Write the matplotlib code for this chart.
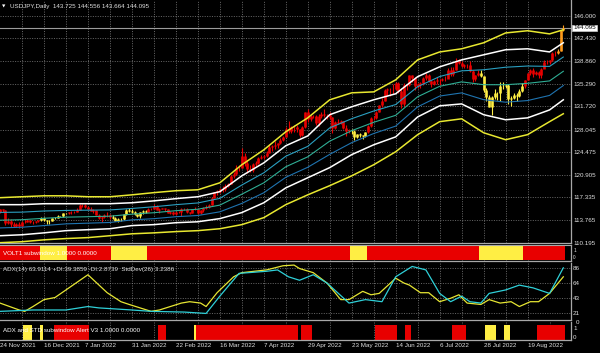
import matplotlib
matplotlib.use("Agg")
import matplotlib.pyplot as plt
import matplotlib.transforms as mtransforms
import numpy as np

plt.rcParams['font.family'] = ['Liberation Sans', 'DejaVu Sans']

TITLE = "USDJPY,Daily  143.725 144.556 143.664 144.095"
VOLT_TEXT = "VOLT1 subwindow 1.0000 0.0000"
ADX_TEXT = "ADX(14) 63.9114 +DI:39.3859 -DI:2.8739  StdDev(26) 3.2386"
ALERT_TEXT = "ADX and STD subwindow Alert V3 1.0000 0.0000"

# daily bars, 24 Nov 2021 .. 7 Sep 2022
first_open = 115.05
closes = [115.45, 115.36, 113.38, 113.66, 113.17, 112.79, 113.19, 112.80, 113.45, 113.53,
          113.71, 113.46, 113.42, 113.57, 113.73, 114.04, 113.72, 113.69, 113.63, 114.08,
          114.12, 114.39, 114.37, 114.82, 114.82, 114.99, 115.07, 115.08, 115.35, 116.13,
          116.11, 115.84, 115.56, 115.21, 115.28, 114.61, 114.17, 114.20, 114.59, 114.63,
          114.30, 114.12, 113.67, 113.96, 113.88, 114.66, 115.35, 115.25, 115.11, 114.70,
          114.42, 114.97, 115.23, 115.10, 115.55, 115.54, 116.02, 115.42, 115.57, 115.61,
          115.47, 114.93, 115.02, 114.75, 115.08, 115.01, 115.49, 115.57, 114.98, 114.88,
          115.48, 115.54, 114.83, 115.30, 115.72, 115.86, 116.14, 117.29, 118.16, 118.29,
          118.71, 118.60, 119.18, 119.46, 120.79, 120.98, 122.06, 122.05, 123.85, 122.84,
          121.85, 121.70, 122.54, 122.76, 123.59, 123.73, 123.95, 124.34, 125.36, 125.39,
          125.62, 125.88, 126.40, 126.93, 128.18, 127.85, 128.39, 128.51, 128.09, 127.24,
          128.43, 130.81, 129.72, 130.14, 130.12, 129.05, 130.17, 130.55, 130.29, 130.42,
          129.96, 128.33, 129.22, 129.14, 129.39, 128.24, 127.79, 127.87, 127.90, 126.84,
          127.34, 127.12, 127.11, 127.65, 128.67, 129.85, 129.88, 130.87, 131.88, 132.62,
          134.24, 134.38, 134.40, 134.41, 135.45, 134.16, 132.14, 135.04, 135.06, 136.63,
          136.25, 134.95, 135.21, 135.47, 136.14, 136.59, 135.73, 135.22, 135.71, 135.87,
          135.93, 136.02, 136.07, 137.43, 136.88, 137.43, 138.95, 138.54, 138.15, 138.21,
          138.19, 137.34, 136.11, 136.67, 136.95, 136.57, 134.27, 133.24, 131.61, 133.19,
          133.87, 133.90, 135.00, 134.96, 135.12, 132.90, 133.06, 133.48, 133.31, 134.21,
          134.97, 135.90, 136.93, 137.47, 136.77, 137.14, 136.62, 137.56, 138.75, 138.74,
          138.96, 140.20, 140.20, 140.53, 143.725, 144.095]
highs = [115.52, 115.50, 115.37, 114.15, 113.96, 113.45, 113.35, 113.50, 113.55, 113.80,
         113.95, 113.80, 113.60, 113.70, 113.80, 114.25, 114.25, 113.80, 113.80, 114.15,
         114.30, 114.50, 114.45, 114.90, 114.95, 115.05, 115.20, 115.20, 115.60, 116.35,
         116.30, 116.30, 116.05, 115.85, 115.45, 115.35, 114.70, 114.40, 114.70, 115.05,
         114.70, 114.55, 114.20, 114.10, 114.15, 114.70, 115.45, 115.70, 115.50, 115.15,
         114.80, 115.05, 115.35, 115.30, 115.65, 115.70, 116.35, 116.20, 115.70, 115.75,
         115.70, 115.50, 115.20, 115.20, 115.20, 115.25, 115.70, 115.75, 115.65, 115.10,
         115.55, 115.80, 115.55, 115.40, 115.80, 116.20, 116.25, 117.35, 118.20, 118.45,
         118.90, 119.10, 119.40, 119.60, 120.90, 121.40, 122.40, 122.45, 125.10, 124.30,
         123.20, 122.40, 122.80, 123.05, 123.70, 124.05, 124.10, 124.70, 125.75, 125.60,
         126.30, 126.00, 126.65, 127.00, 128.45, 129.40, 128.60, 128.85, 128.75, 128.10,
         128.60, 130.90, 131.25, 130.35, 130.35, 130.40, 130.45, 130.85, 131.35, 130.50,
         130.80, 130.05, 129.40, 129.70, 129.60, 129.40, 128.70, 128.20, 128.10, 128.00,
         127.40, 127.55, 127.25, 127.70, 128.85, 130.00, 130.25, 130.95, 132.00, 133.00,
         134.50, 134.55, 134.60, 135.20, 135.60, 135.55, 134.65, 135.40, 135.30, 136.70,
         136.70, 136.30, 135.35, 135.55, 136.35, 137.00, 136.75, 135.90, 135.80, 136.35,
         136.00, 136.20, 136.55, 137.75, 137.85, 137.85, 139.40, 139.20, 138.85, 138.40,
         138.40, 138.85, 137.50, 136.70, 137.45, 137.45, 136.55, 134.55, 133.55, 133.30,
         134.40, 134.05, 135.50, 135.55, 135.25, 135.25, 133.35, 133.90, 133.90, 134.40,
         135.45, 135.95, 137.00, 137.65, 137.70, 137.25, 137.35, 137.70, 139.05, 139.00,
         139.10, 140.25, 140.40, 140.80, 143.80, 144.556]
lows = [114.85, 115.10, 113.06, 113.10, 112.70, 112.62, 112.70, 112.56, 112.75, 113.35,
        113.45, 113.35, 113.10, 113.30, 113.45, 113.60, 113.55, 113.15, 113.15, 113.60,
        113.90, 114.05, 114.25, 114.30, 114.65, 114.75, 114.80, 114.95, 115.00, 115.30,
        115.85, 115.65, 115.45, 115.15, 114.90, 114.50, 114.00, 113.50, 114.15, 114.25,
        114.00, 113.90, 113.55, 113.50, 113.60, 113.75, 114.60, 115.05, 114.95, 114.55,
        114.30, 114.15, 114.75, 114.90, 115.05, 115.35, 115.45, 115.30, 114.95, 115.45,
        115.25, 114.85, 114.80, 114.55, 114.50, 114.90, 114.40, 115.35, 114.90, 114.65,
        114.85, 115.40, 114.65, 114.80, 115.05, 115.55, 115.75, 116.10, 117.20, 117.75,
        118.10, 118.25, 118.40, 118.95, 119.40, 120.45, 120.95, 121.55, 122.05, 122.35,
        121.20, 121.30, 121.30, 122.25, 122.55, 123.40, 123.40, 123.80, 124.30, 124.70,
        125.00, 125.10, 125.80, 126.25, 126.90, 127.45, 127.50, 127.70, 127.70, 126.95,
        127.10, 128.35, 129.30, 129.45, 129.90, 128.80, 128.60, 129.80, 130.10, 129.75,
        129.65, 127.50, 128.10, 128.90, 128.90, 128.10, 127.00, 127.50, 127.40, 126.35,
        126.70, 126.80, 126.60, 126.90, 127.50, 128.50, 129.55, 129.75, 130.85, 131.60,
        132.55, 133.35, 133.40, 133.60, 134.25, 133.80, 131.50, 131.85, 134.25, 134.95,
        135.50, 134.30, 134.55, 134.55, 135.10, 135.95, 135.55, 134.75, 135.15, 135.30,
        135.10, 135.70, 135.65, 136.25, 136.55, 136.45, 137.40, 138.40, 137.90, 137.70,
        137.70, 137.20, 135.60, 135.75, 136.45, 136.35, 134.00, 132.50, 131.60, 130.40,
        132.90, 132.75, 132.55, 134.40, 134.55, 132.05, 131.75, 132.85, 132.55, 133.20,
        134.05, 134.65, 135.85, 136.65, 136.30, 136.60, 136.25, 136.25, 138.30, 138.35,
        138.45, 138.95, 139.65, 140.05, 140.40, 143.664]

# VOLT1 state: yellow runs (bar index ranges), red elsewhere
volt_yellow = [(15, 24), (41, 53), (128, 133), (175, 190)]
orange_bars = [203, 204, 205]
last_price = 144.095

# envelope lines, sampled every 8 bars
band_bars = [0, 8, 16, 24, 32, 40, 48, 56, 64, 72, 80, 88, 96, 104, 112, 120, 128,
             136, 144, 152, 160, 168, 176, 184, 192, 200, 205]
yellow_up = [117.3, 117.45, 117.6, 117.6, 117.45, 117.45, 117.75, 118.1, 118.4, 118.55,
             119.65, 122.5, 124.85, 127.7, 129.9, 132.75, 133.85, 134.0, 135.9, 139.05,
             140.3, 140.8, 141.75, 143.3, 143.65, 143.15, 143.8]
white_up = [116.2, 116.2, 116.35, 116.35, 116.35, 116.35, 116.5, 116.8, 117.15, 117.45,
            118.25, 120.75, 122.8, 125.5, 127.05, 130.4, 131.65, 132.75, 133.7, 136.4,
            137.95, 139.05, 139.85, 140.65, 140.8, 140.3, 141.75]
teal_up = [114.98, 115.02, 115.2, 115.29, 115.33, 115.37, 115.6, 115.87, 116.2, 116.47,
           117.19, 119.3, 121.23, 123.84, 125.4, 128.32, 129.77, 130.98, 132.0, 134.82,
           136.42, 137.32, 137.49, 137.89, 138.08, 138.02, 139.5]
teal_mid = [113.75, 113.83, 114.05, 114.23, 114.3, 114.38, 114.7, 114.93, 115.25, 115.48,
            116.13, 117.85, 119.65, 122.18, 123.75, 126.23, 127.88, 129.2, 130.3, 133.23,
            134.88, 135.58, 135.13, 135.13, 135.35, 135.73, 137.25]
teal_low = [112.53, 112.64, 112.9, 113.17, 113.28, 113.39, 113.8, 113.99, 114.3, 114.49,
            115.07, 116.4, 118.08, 120.52, 122.1, 124.14, 125.99, 127.43, 128.6, 131.64,
            133.34, 133.84, 132.77, 132.37, 132.63, 133.44, 135.0]
white_low = [111.3, 111.45, 111.75, 112.1, 112.25, 112.4, 112.9, 113.05, 113.35, 113.5,
             114.0, 114.95, 116.5, 118.85, 120.45, 122.05, 124.1, 125.65, 126.9, 130.05,
             131.8, 132.1, 130.4, 129.6, 129.9, 131.15, 132.75]
yellow_low = [110.2, 110.35, 110.65, 110.85, 111.0, 111.3, 111.6, 111.75, 111.95, 112.1,
              112.4, 113.05, 114.15, 116.2, 117.75, 119.2, 120.75, 122.5, 124.55, 127.25,
              129.3, 129.75, 127.55, 126.45, 127.25, 129.3, 130.55]

price_ticks = [110.195, 113.765, 117.335, 120.905, 124.475, 128.045, 131.720,
               135.290, 138.860, 142.430, 146.000]

# ADX / StdDev subwindow
adx_x = [0, 7, 9, 12, 16, 20, 24, 32, 39, 44, 47, 51, 55, 58, 62, 66, 69, 73, 75, 79,
         85, 88, 97, 103, 107, 109, 114, 119, 124, 127, 132, 135, 138, 144, 147, 149,
         153, 156, 160, 164, 167, 170, 175, 178, 182, 186, 189, 193, 196, 200, 205]
adx_y = [35, 25, 23, 30, 40, 43, 54, 76, 50, 37, 33, 28, 23, 25, 30, 35, 37, 35, 30, 50,
         73, 79, 83, 89, 90, 85, 79, 64, 40, 40, 52, 47, 49, 71, 64, 61,
         50, 50, 37, 42, 47, 35, 33, 40, 35, 37, 30, 37, 37, 49, 73]
std_x = [0, 12, 24, 32, 36, 48, 55, 67, 75, 80, 87, 97, 101, 105, 109, 114, 119, 127,
         133, 139, 144, 150, 155, 160, 164, 168, 171, 175, 178, 184, 189, 194, 200, 205]
std_y = [23, 25, 25, 30, 28, 25, 23, 22, 20, 45, 78, 81, 83, 73, 68, 76, 64, 35,
         40, 37, 73, 88, 83, 49, 37, 45, 37, 35, 49, 54, 61, 57, 49, 86]
adx_ticks = [21, 43, 64, 86]

# alert subwindow runs
alert_red = [(20, 32), (58, 60), (72, 108), (110, 113), (137, 144), (148, 149),
             (165, 169), (196, 205)]
alert_yellow = [(9, 11), (15, 15), (71, 71), (177, 180), (184, 185)]

date_pos = [0, 16, 31, 48, 64, 80, 96, 112, 128, 144, 160, 176, 192]
date_labels = ["24 Nov 2021", "16 Dec 2021", "7 Jan 2022", "31 Jan 2022", "22 Feb 2022",
               "16 Mar 2022", "7 Apr 2022", "29 Apr 2022", "23 May 2022", "14 Jun 2022",
               "6 Jul 2022", "28 Jul 2022", "19 Aug 2022"]

RED = '#e80000'
YEL = '#ffee44'
ORA = '#ff9a1a'
GRID = '#8a8a8a'
FRAME = '#a8a8a8'
TXT = '#e0e0e0'
FS = 4.5


def style(ax):
    ax.set_facecolor('black')
    ax.set_xlim(0.2, 207.8)
    ax.set_xticks(np.arange(0, 208, 8), minor=True)
    ax.grid(True, which='minor', axis='x', color=GRID, linestyle=(0, (1.5, 2)), linewidth=0.5)
    ax.tick_params(which='both', axis='x', length=0, labelbottom=False)
    ax.yaxis.tick_right()
    ax.tick_params(axis='y', length=0, pad=1.5, labelsize=FS, labelcolor=TXT)
    for s in ['left', 'top']:
        ax.spines[s].set_visible(False)
    for s in ['right', 'bottom']:
        ax.spines[s].set_color(FRAME)
        ax.spines[s].set_linewidth(0.9)
    ax.set_axisbelow(True)


def in_runs(i, runs):
    return any(a <= i <= b for a, b in runs)


def main():
    fig = plt.figure(figsize=(6.0, 3.53), dpi=100, facecolor='black')
    W = 571 / 600
    H = 353
    ax = fig.add_axes([0, (H - 243) / H, W, 243 / H])
    ax_v = fig.add_axes([0, (H - 261) / H, W, 16 / H])
    ax_a = fig.add_axes([0, (H - 320) / H, W, 57 / H])
    ax_al = fig.add_axes([0, (H - 340) / H, W, 18 / H])
    for a in (ax, ax_v, ax_a, ax_al):
        style(a)

    # main price window
    bars = np.arange(len(closes))
    opens = [first_open] + closes[:-1]
    colors = []
    for i in bars:
        if in_runs(i, volt_yellow):
            colors.append(YEL)
        elif i in orange_bars:
            colors.append(ORA)
        else:
            colors.append(RED)
    ax.vlines(bars, lows, highs, colors=colors, linewidth=0.8, zorder=2)
    ax.vlines(bars, np.minimum(opens, closes), np.maximum(opens, closes),
              colors=colors, linewidth=1.9, zorder=2)

    ax.plot(band_bars, teal_up, color='#2a9fc0', lw=0.8, zorder=3)
    ax.plot(band_bars, teal_mid, color='#2fae95', lw=0.8, zorder=3)
    ax.plot(band_bars, teal_low, color='#1f74b0', lw=0.8, zorder=3)
    ax.plot(band_bars, white_up, color='white', lw=1.1, zorder=3)
    ax.plot(band_bars, white_low, color='white', lw=1.1, zorder=3)
    ax.plot(band_bars, yellow_up, color='#e8e830', lw=1.1, zorder=3)
    ax.plot(band_bars, yellow_low, color='#e8e830', lw=1.1, zorder=3)

    ax.axhline(last_price, color='#9c9c9c', lw=0.8, zorder=1)
    ax.set_ylim(110.15, 148.5)
    ax.set_yticks(price_ticks)
    ax.set_yticklabels([f"{t:.3f}" for t in price_ticks])
    ax.grid(True, which='major', axis='y', color=GRID, linestyle=(0, (1.5, 2)), linewidth=0.5)
    tr = mtransforms.blended_transform_factory(ax.transAxes, ax.transData)
    ax.text(1.004, last_price, f"{last_price:.3f}", transform=tr, fontsize=FS,
            color='black', va='center', ha='left', clip_on=False,
            bbox=dict(facecolor='white', edgecolor='#cccccc', pad=0.6, linewidth=0.5))
    ax.text(0.004, 0.975, "\u25bc", transform=ax.transAxes, fontsize=3.2, color='white',
            va='center', ha='left', family='DejaVu Sans')
    ax.text(0.017, 0.975, TITLE, transform=ax.transAxes, fontsize=FS, color=TXT,
            va='center', ha='left')

    # VOLT1 subwindow
    vcol = [YEL if in_runs(i, volt_yellow) else RED for i in bars]
    ax_v.bar(bars, 1.0, width=1.0, color=vcol, linewidth=0, zorder=2)
    ax_v.set_ylim(-0.06, 1.08)
    ax_v.set_yticks([0.25, 0.75])
    ax_v.set_yticklabels(['0', '1'])
    ax_v.tick_params(axis='y', labelsize=3.4)
    ax_v.spines['top'].set_visible(True)
    ax_v.spines['top'].set_color(FRAME)
    ax_v.text(0.005, 0.45, VOLT_TEXT, transform=ax_v.transAxes, fontsize=FS,
              color='white', va='center', ha='left', zorder=5)

    # ADX / StdDev subwindow
    ax_a.plot(adx_x, adx_y, color='#e6e633', lw=0.9, zorder=3)
    ax_a.plot(std_x, std_y, color='#2fd0d8', lw=0.9, zorder=3)
    ax_a.set_ylim(10.5, 93)
    ax_a.set_yticks(adx_ticks)
    ax_a.grid(True, which='major', axis='y', color=GRID, linestyle=(0, (1.5, 2)), linewidth=0.5)
    ax_a.text(1.008, -0.04, "0", transform=ax_a.transAxes, fontsize=FS, color=TXT,
              va='center', ha='left')
    ax_a.text(0.005, 0.88, ADX_TEXT, transform=ax_a.transAxes, fontsize=FS,
              color=TXT, va='center', ha='left', zorder=5)

    # alert subwindow
    for runs, col in ((alert_red, RED), (alert_yellow, YEL)):
        for a, b in runs:
            idx = np.arange(a, b + 1)
            ax_al.bar(idx, 1.0, width=1.0, color=col, linewidth=0, zorder=2)
    ax_al.set_ylim(0, 1.2)
    ax_al.set_yticks([0.22, 0.82])
    ax_al.set_yticklabels(['0', '1'])
    ax_al.text(0.005, 0.55, ALERT_TEXT, transform=ax_al.transAxes, fontsize=FS,
               color='white', va='center', ha='left', zorder=5)
    ax_al.set_xticks(date_pos)
    ax_al.set_xticklabels(date_labels, ha='left')
    ax_al.tick_params(axis='x', which='major', labelbottom=True, labelsize=FS,
                      labelcolor=TXT, pad=2.5, length=0)

    fig.savefig("out.png", dpi=100, facecolor='black')


if __name__ == "__main__":
    main()
